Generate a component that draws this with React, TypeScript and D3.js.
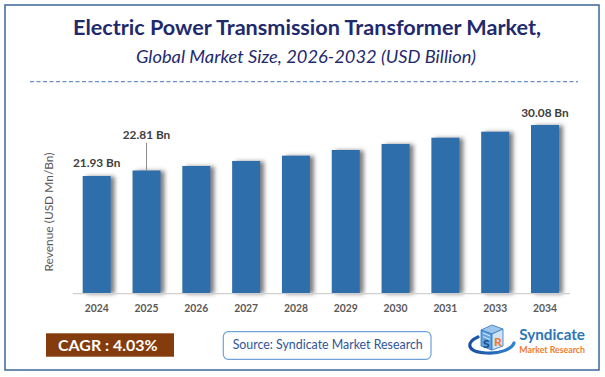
import React from "react";
import * as d3 from "d3";

const years = ["2024", "2025", "2026", "2027", "2028", "2029", "2030", "2031", "2033", "2034"];
const revenue = [21.93, 22.81, 23.53, 24.33, 25.18, 26.09, 27.05, 28.05, 29.01, 30.08];
const labelledYears = ["2024", "2025", "2034"];
const labelLift: Record<string, number> = { "2024": 9.3, "2025": 31.7, "2034": 8.3 };
const yAxisMin = 3.19;

const titleText = "Electric Power Transmission Transformer Market,";
const subtitleText = "Global Market Size, 2026-2032 (USD Billion)";
const yAxisTitle = "Revenue (USD Mn/Bn)";
const cagrText = "CAGR : 4.03%";
const sourceText = "Source: Syndicate Market Research";

const W = 605;
const H = 377;
const FONT = "Lato, 'Open Sans', sans-serif";

export default function App() {
  const x = d3
    .scaleBand<string>()
    .domain(years)
    .range([71.8, 569.9])
    .paddingInner(0.438)
    .paddingOuter(0.219);
  const y = d3
    .scaleLinear()
    .domain([yAxisMin, d3.max(revenue) as number])
    .range([293.3, 125]);

  const data = years.map((yr, i) => ({ yr, v: revenue[i] }));

  return (
    <svg
      width={W}
      height={H}
      viewBox={`0 0 ${W} ${H}`}
      style={{ position: "absolute", left: 0, top: 0, background: "#fff" }}
      fontFamily={FONT}
    >
      <defs>
        <filter id="barShadow" x="-20%" y="-5%" width="160%" height="110%">
          <feDropShadow dx="4" dy="0.5" stdDeviation="2.2" floodColor="#555" floodOpacity="0.75" />
        </filter>
        <linearGradient id="swoosh" x1="0" x2="1">
          <stop offset="0" stopColor="#1C4F9C" />
          <stop offset="1" stopColor="#2E86D0" />
        </linearGradient>
      </defs>
      <rect x={0} y={0} width={W} height={H} fill="#fff" />
      <rect x={5} y={5} width={594} height={365} fill="none" stroke="#3B6698" strokeWidth={1.5} />

      {/* Title */}
      <text
        x={307}
        y={35}
        textAnchor="middle"
        fontSize={21}
        fontWeight={700}
        fill="#1F2A6E"
        textLength={468}
        lengthAdjust="spacingAndGlyphs"
      >
        {titleText}
      </text>
      <text
        x={306}
        y={63.3}
        textAnchor="middle"
        fontSize={17}
        fontStyle="italic"
        fill="#1F2A6E"
        textLength={340}
        lengthAdjust="spacingAndGlyphs"
      >
        {subtitleText}
      </text>
      <line x1={30} x2={578} y1={81.7} y2={81.7} stroke="#6A8FCB" strokeWidth={1.2} strokeDasharray="4 2.5" />

      {/* Bars */}
      <g filter="url(#barShadow)">
        {data.map((d) => (
          <rect
            key={d.yr}
            x={x(d.yr)}
            y={y(d.v)}
            width={x.bandwidth()}
            height={y(yAxisMin) - y(d.v)}
            fill="#2F6EAA"
          />
        ))}
      </g>

      {/* Axis line */}
      <line x1={x.range()[0] + 1} x2={x.range()[1]} y1={293.6} y2={293.6} stroke="#D0D0D0" strokeWidth={1.2} />

      {/* X tick labels */}
      {years.map((yr) => (
        <text
          key={yr}
          x={(x(yr) as number) + x.bandwidth() / 2}
          y={312}
          textAnchor="middle"
          fontSize={12}
          fontWeight={700}
          fill="#595959"
          textLength={24}
          lengthAdjust="spacingAndGlyphs"
        >
          {yr}
        </text>
      ))}

      {/* Data labels */}
      {data
        .filter((d) => labelledYears.includes(d.yr))
        .map((d) => {
          const cx = (x(d.yr) as number) + x.bandwidth() / 2;
          const top = y(d.v);
          const by = top - labelLift[d.yr];
          return (
            <g key={d.yr}>
              {labelLift[d.yr] > 20 && (
                <line x1={cx} x2={cx} y1={by + 4} y2={top} stroke="#8C8C8C" strokeWidth={1} />
              )}
              <text
                x={cx}
                y={by}
                textAnchor="middle"
                fontSize={12}
                fontWeight={700}
                fill="#404040"
                textLength={47.5}
                lengthAdjust="spacingAndGlyphs"
              >
                {`${d.v.toFixed(2)} Bn`}
              </text>
            </g>
          );
        })}

      {/* Y axis title */}
      <text
        transform="translate(52.5,212) rotate(-90)"
        textAnchor="middle"
        fontSize={12}
        fill="#595959"
        textLength={119}
        lengthAdjust="spacingAndGlyphs"
      >
        {yAxisTitle}
      </text>

      {/* CAGR box */}
      <rect x={46} y={333.3} width={128} height={23.4} fill="#843C0C" />
      <text
        x={58}
        y={350.7}
        fontSize={15}
        fontWeight={700}
        fill="#fff"
        textLength={99.7}
        lengthAdjust="spacingAndGlyphs"
      >
        {cagrText}
      </text>

      {/* Source box */}
      <rect x={223.3} y={331.7} width={207.7} height={27.6} rx={5} fill="#fff" stroke="#6FA2D8" strokeWidth={1.2} />
      <text
        x={232.7}
        y={349}
        fontSize={12.5}
        fill="#2F5597"
        textLength={190}
        lengthAdjust="spacingAndGlyphs"
      >
        {sourceText}
      </text>

      {/* Logo */}
      <g>
        <path
          d="M478,337 C466,342 466,352 486,353 C500,354 512,349 514,343"
          fill="none"
          stroke="url(#swoosh)"
          strokeWidth={3.2}
          strokeLinecap="round"
        />
        <path d="M481,330 L492,325 L503,329 L492,334 Z" fill="#9CC6EC" stroke="#2E75B6" strokeWidth={0.8} />
        <path d="M481,330 L492,334 L492,350 L481,346 Z" fill="#5FA3E0" stroke="#2E75B6" strokeWidth={0.8} />
        <path d="M492,334 L503,329 L503,346 L492,350 Z" fill="#CFE3F6" stroke="#2E75B6" strokeWidth={0.8} />
        <line x1={483} y1={333} x2={490} y2={336} stroke="#fff" strokeWidth={0.8} />
        <line x1={483} y1={336.5} x2={490} y2={339.5} stroke="#fff" strokeWidth={0.8} />
        <text x={483} y={348} fontSize={12} fontWeight={900} fill="#1F4E8C">S</text>
        <text x={494} y={346} fontSize={12} fontWeight={900} fill="#ED7D31">R</text>
        <text
          x={519.3}
          y={340}
          fontSize={16}
          fontWeight={700}
          fill="#2E75B6"
          textLength={65.7}
          lengthAdjust="spacingAndGlyphs"
        >
          Syndicate
        </text>
        <text
          x={519.3}
          y={352.7}
          fontSize={10}
          fontWeight={700}
          fill="#ED7D31"
          textLength={65.7}
          lengthAdjust="spacingAndGlyphs"
        >
          Market Research
        </text>
      </g>
    </svg>
  );
}
